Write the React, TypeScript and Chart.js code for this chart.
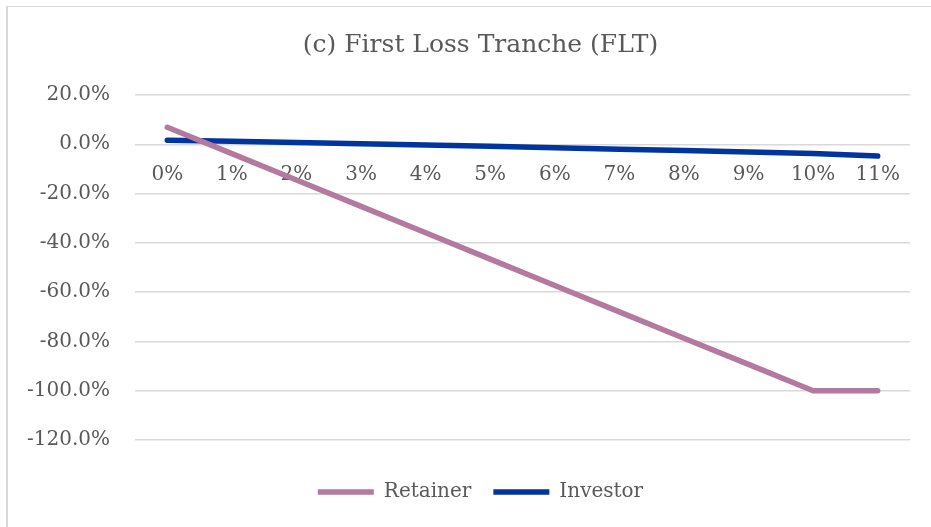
import React, { useEffect, useRef } from "react";
import { Chart, registerables } from "chart.js";

Chart.register(...registerables);

const titleText = "(c) First Loss Tranche (FLT)";
const categories = ["0%", "1%", "2%", "3%", "4%", "5%", "6%", "7%", "8%", "9%", "10%", "11%"];
const retainer = [6.9, -3.8, -14.5, -25.2, -35.9, -46.6, -57.3, -68.0, -78.7, -89.3, -100, -100];
const investor = [1.6, 1.2, 0.7, 0.2, -0.3, -0.8, -1.4, -2.0, -2.5, -3.1, -3.7, -4.8];
const yMin = -120;
const yMax = 20;
const yStep = 20;

const FONT = "'DejaVu Serif', serif";
const TEXT = "#595959";
const GRID = "#d9d9d9";

export default function App() {
  const ref = useRef<HTMLCanvasElement | null>(null);

  useEffect(() => {
    if (!ref.current) return;
    const chart = new Chart(ref.current, {
      type: "line",
      data: {
        labels: categories,
        datasets: [
          {
            label: "Retainer",
            data: retainer,
            borderColor: "#b3799f",
            backgroundColor: "#b3799f",
            borderWidth: 5.5,
            borderCapStyle: "round",
            borderJoinStyle: "round",
            pointRadius: 0,
            pointHoverRadius: 0,
            pointStyle: "line",
            tension: 0,
            yAxisID: "y",
          },
          {
            label: "Investor",
            data: investor,
            borderColor: "#00349e",
            backgroundColor: "#00349e",
            borderWidth: 5.5,
            borderCapStyle: "round",
            borderJoinStyle: "round",
            pointRadius: 0,
            pointHoverRadius: 0,
            pointStyle: "line",
            tension: 0,
            yAxisID: "y",
          },
        ],
      },
      options: {
        responsive: false,
        animation: false,
        devicePixelRatio: 1,
        layout: { padding: { left: 20, right: 20, top: 0, bottom: 15 } },
        plugins: {
          tooltip: { enabled: false },
          title: {
            display: true,
            text: titleText,
            color: TEXT,
            font: { family: FONT, size: 25, weight: "normal" },
            padding: { top: 30, bottom: 35 },
          },
          legend: {
            display: true,
            position: "bottom",
            title: {
              display: true,
              text: " ",
              font: { family: FONT, size: 10 },
              padding: { top: 4, bottom: 4 },
            },
            labels: {
              color: TEXT,
              font: { family: FONT, size: 20 },
              usePointStyle: true,
              pointStyle: "line",
              pointStyleWidth: 56,
              boxHeight: 20,
              padding: 22,
            },
          },
        },
        scales: {
          x: {
            type: "category",
            position: { y: 0 },
            offset: true,
            grid: { display: false, drawTicks: false },
            border: { display: false },
            ticks: {
              color: TEXT,
              font: { family: FONT, size: 20 },
              padding: 19,
              maxRotation: 0,
              autoSkip: false,
            },
          },
          y: {
            position: "left",
            min: yMin,
            max: yMax,
            afterFit: (s: any) => {
              s.width = 115;
            },
            grid: { color: GRID, lineWidth: 1.5, drawTicks: false },
            border: { display: false },
            ticks: {
              stepSize: yStep,
              color: TEXT,
              font: { family: FONT, size: 20 },
              padding: 25,
              callback: (v: any) => Number(v).toFixed(1) + "%",
            },
          },
          ySpacer: {
            type: "linear",
            position: "right",
            display: true,
            afterFit: (s: any) => {
              s.width = 31;
            },
            grid: { display: false, drawTicks: false },
            border: { display: false },
            ticks: { display: false },
          },
        },
      },
    });
    return () => chart.destroy();
  }, []);

  return (
    <div
      style={{
        position: "fixed",
        left: 0,
        top: 0,
        width: 931,
        height: 527,
        overflow: "hidden",
        background: "#fff",
      }}
    >
      <div
        style={{
          position: "absolute",
          left: 6,
          top: 6,
          width: 1000,
          height: 600,
          borderTop: "1.5px solid #d9d9d9",
          borderLeft: "2px solid #d9d9d9",
        }}
      />
      <canvas
        ref={ref}
        width={961}
        height={527}
        style={{ position: "absolute", left: 0, top: 0, display: "block" }}
      />
    </div>
  );
}
